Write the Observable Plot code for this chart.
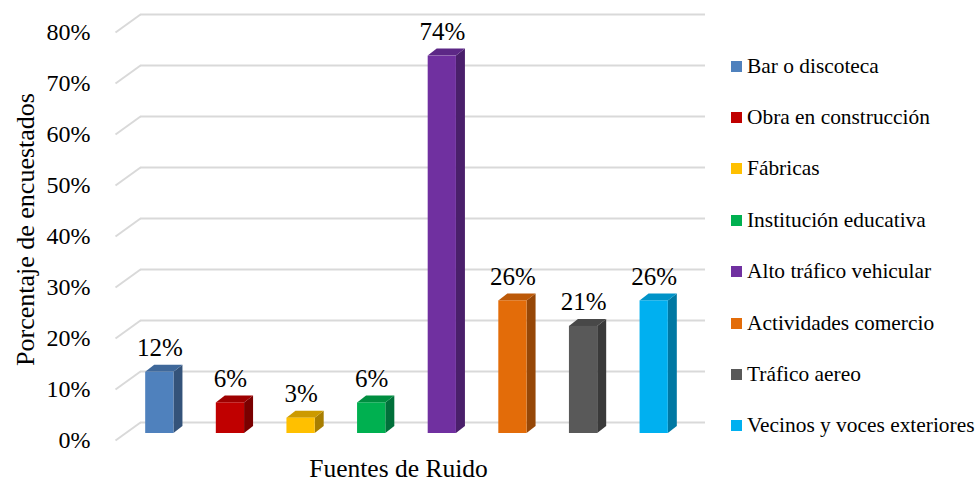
<!DOCTYPE html>
<html>
<head>
<meta charset="utf-8">
<script src="https://cdn.jsdelivr.net/npm/d3@7"></script>
<script src="https://cdn.jsdelivr.net/npm/@observablehq/plot@0.6"></script>
<style>
  body { margin: 0; background: #fff; }
  #wrap { position: relative; width: 979px; height: 482px; font-family: "Liberation Serif", "Times New Roman", serif; }
  #legend { position: absolute; left: 731px; top: 40.5px; }
  .row { height: 51.4px; display: flex; align-items: center; font-size: 21.4px; color: #000; white-space: nowrap; }
  .sw { width: 11px; height: 11px; margin-right: 5px; flex: none; }
</style>
</head>
<body>
<div id="wrap"></div>
<script>
const categories = ["Bar o discoteca", "Obra en construcción", "Fábricas", "Institución educativa",
  "Alto tráfico vehicular", "Actividades comercio", "Tráfico aereo", "Vecinos y voces exteriores"];
const values = [0.12, 0.06, 0.03, 0.06, 0.74, 0.26, 0.21, 0.26];
const frontColors = ["#4F81BD", "#C00000", "#FFC000", "#00B050", "#7030A0", "#E36C09", "#595959", "#00B0F0"];
const sideColors  = ["#34537A", "#7A0000", "#A87E00", "#00703A", "#4A1F6B", "#964707", "#3A3A3A", "#0078A3"];
const topColors   = ["#3F689A", "#9E0000", "#CC9A00", "#008E40", "#5C2786", "#BC5908", "#484848", "#0093C8"];
const yTicks = [0, 0.1, 0.2, 0.3, 0.4, 0.5, 0.6, 0.7, 0.8];

// layout (pixels)
const W = 979, H = 482, mL = 124, mR = 290, mT = 25, mB = 49;
const kx = 8 / (W - mL - mR);          // data units per px (x)
const ky = 0.8 / (H - mT - mB);        // data units per px (y)
const barDX = 9 * kx, barDY = 7 * ky;  // bar depth

const bars = categories.map((c, i) => ({c, i, v: values[i], front: frontColors[i], side: sideColors[i], top: topColors[i]}));
const sidePts = bars.flatMap(b => [
  {c: b.c, x: b.i + 0.7, y1: 0, y2: b.v, f: b.side},
  {c: b.c, x: b.i + 0.7 + barDX, y1: barDY, y2: b.v + barDY, f: b.side}
]);
const topPts = bars.flatMap(b => [
  {c: b.c, y: b.v, x1: b.i + 0.3, x2: b.i + 0.7, f: b.top},
  {c: b.c, y: b.v + barDY, x1: b.i + 0.3 + barDX, x2: b.i + 0.7 + barDX, f: b.top}
]);

const chart = Plot.plot({
  width: W, height: H,
  marginLeft: mL, marginRight: mR, marginTop: mT, marginBottom: mB,
  style: {fontFamily: "'Liberation Serif', 'Times New Roman', serif", background: "#fff", color: "#000"},
  x: {domain: [0, 8], axis: null},
  y: {domain: [0, 0.8], nice: false},
  color: {type: "identity"},
  marks: [
    Plot.ruleY(yTicks, {dx: 16, dy: -11, stroke: "#D9D9D9", strokeWidth: 2}),
    Plot.link(yTicks, {x1: -9 * kx, y1: d => d - 7 * ky, x2: 16 * kx, y2: d => d + 11 * ky, stroke: "#D9D9D9", strokeWidth: 2}),
    Plot.axisY(yTicks, {tickFormat: d3.format(".0%"), tickSize: 0, tickPadding: 34, dy: 7, fontSize: 24, label: null}),
    Plot.areaY(sidePts, {x: "x", y1: "y1", y2: "y2", z: "c", fill: "f"}),
    Plot.areaX(topPts, {y: "y", x1: "x1", x2: "x2", z: "c", fill: "f"}),
    Plot.rectY(bars, {x1: d => d.i + 0.3, x2: d => d.i + 0.7, y1: 0, y2: "v", fill: "front"}),
    Plot.text(bars, {x: d => d.i + 0.5, y: "v", text: d => d3.format(".0%")(d.v), dy: -24, fontSize: 25, fill: "#000"}),
    Plot.text(["Porcentaje de encuestados"], {frameAnchor: "left", textAnchor: "middle", lineAnchor: "middle", dx: -99, dy: 0, rotate: -90, fontSize: 26, fill: "#000"}),
    Plot.text(["Fuentes de Ruido"], {frameAnchor: "bottom", textAnchor: "middle", lineAnchor: "middle", dx: -8.5, dy: 35, fontSize: 25.5, fill: "#000"})
  ]
});

const wrap = document.getElementById("wrap");
wrap.appendChild(chart);
const legend = document.createElement("div");
legend.id = "legend";
categories.forEach((c, i) => {
  const row = document.createElement("div");
  row.className = "row";
  const sw = document.createElement("span");
  sw.className = "sw";
  sw.style.background = frontColors[i];
  const t = document.createElement("span");
  t.textContent = c;
  row.appendChild(sw); row.appendChild(t);
  legend.appendChild(row);
});
wrap.appendChild(legend);
</script>
</body>
</html>
